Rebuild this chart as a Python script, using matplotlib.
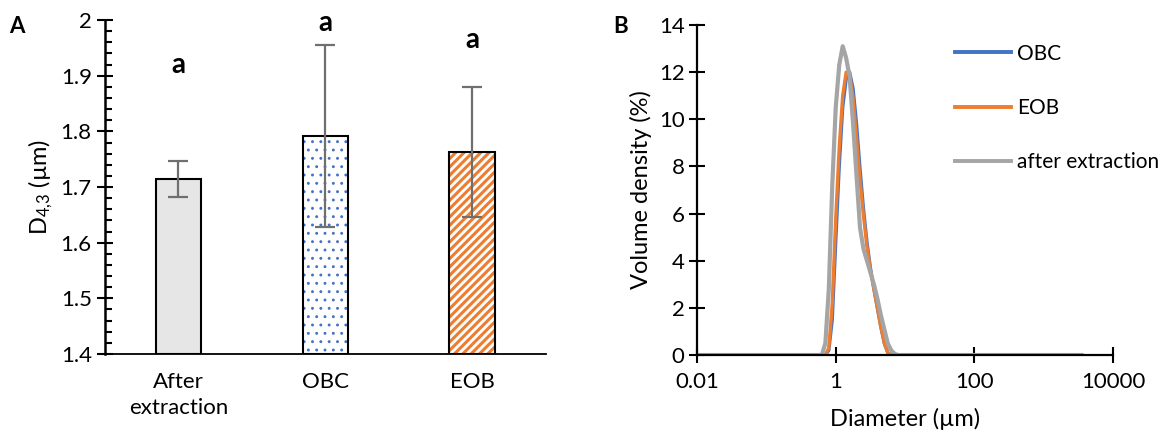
import numpy as np
import matplotlib
matplotlib.use("Agg")
import matplotlib.pyplot as plt

plt.rcParams['font.family'] = ['Lato', 'DejaVu Sans']
plt.rcParams['mathtext.default'] = 'regular'
plt.rcParams['hatch.linewidth'] = 2.2

# ------------------------------------------------------------
# Panel A data: mean D4,3 with error bars
# ------------------------------------------------------------
samples = ["After\nextraction", "OBC", "EOB"]
d43 = [1.714, 1.792, 1.763]
d43_err = [0.032, 0.163, 0.116]
letters = ["a", "a", "a"]
letter_y = [1.92, 1.995, 1.965]

# ------------------------------------------------------------
# Panel B data: volume density vs diameter (Mastersizer bins)
# ------------------------------------------------------------
diam = [0.01, 0.5, 0.632, 0.710, 0.796, 0.893, 1.002, 1.125, 1.262, 1.416,
        1.589, 1.783, 2.000, 2.244, 2.518, 2.825, 3.170, 3.557, 3.991,
        4.477, 5.024, 5.637, 6.325, 7.096, 7.962, 3500]
obc = [0, 0, 0, 0, 0.2, 1.5, 4.8, 8.0, 10.5, 11.7,
       12.0, 11.3, 9.8, 7.9, 6.2, 4.8, 3.7, 2.8, 2.0,
       1.2, 0.5, 0.1, 0, 0, 0, 0]
eob = [0, 0, 0, 0, 0.3, 2.2, 5.8, 8.8, 11.0, 12.0,
       11.9, 10.9, 9.2, 7.4, 5.9, 4.6, 3.6, 2.8, 2.0,
       1.2, 0.5, 0.1, 0, 0, 0, 0]
after = [0, 0, 0, 0.5, 2.8, 7.2, 10.5, 12.3, 13.1, 12.6,
         11.8, 9.8, 7.6, 5.4, 4.5, 4.0, 3.5, 3.0, 2.4,
         1.7, 1.1, 0.5, 0.2, 0.05, 0, 0]

blue, orange, grey = '#4472C4', '#ED7D31', '#A5A5A5'

fig = plt.figure(figsize=(11.64, 4.37), dpi=100)

# ---------------- Panel A ----------------
axA = fig.add_axes([0.0902, 0.190, 0.3786, 0.764])
xpos = np.arange(len(samples))
w = 0.31
axA.bar(xpos[0], d43[0] - 1.4, w, bottom=1.4, color='#E7E6E6', edgecolor='black', linewidth=1.5, zorder=2)
# patterned bars: hatch drawn in colour, outline drawn separately in black
dots = axA.bar(xpos[1], d43[1] - 1.4, w, bottom=1.4, color='white', edgecolor=blue, hatch='..', linewidth=0, zorder=2)
for p in dots:
    if hasattr(p, 'set_hatch_linewidth'):
        p.set_hatch_linewidth(0.9)
axA.bar(xpos[2], d43[2] - 1.4, w, bottom=1.4, color='white', edgecolor=orange, hatch='////', linewidth=0, zorder=2)
axA.bar(xpos[1:], np.array(d43[1:]) - 1.4, w, bottom=1.4, fill=False, edgecolor='black', linewidth=1.5, zorder=3)
axA.errorbar(xpos, d43, yerr=d43_err, fmt='none', ecolor='#6F6F6F', elinewidth=1.6, capsize=7, capthick=1.6, zorder=4)
for x, y, t in zip(xpos, letter_y, letters):
    axA.text(x, y, t, ha='center', va='center', fontsize=20, fontweight='bold')

axA.set_xlim(-0.5, 2.5)
axA.set_ylim(1.4, 2.0)
axA.set_yticks(np.arange(1.4, 2.01, 0.1))
axA.set_yticklabels([f"{v:g}" for v in np.arange(1.4, 2.01, 0.1).round(1)])
axA.set_yticks(np.arange(1.4, 2.0, 0.02), minor=True)
axA.set_xticks(xpos)
axA.set_xticklabels(samples, linespacing=1.4)
axA.tick_params(axis='y', which='major', direction='inout', length=11, width=1.5, labelsize=16, pad=4)
axA.tick_params(axis='y', which='minor', direction='in', length=5, width=1.5)
axA.tick_params(axis='x', direction='in', length=5, width=1.5, labelsize=16, pad=13)
for s in ['top', 'right']:
    axA.spines[s].set_visible(False)
axA.spines['left'].set_linewidth(1.8)
axA.spines['bottom'].set_linewidth(1.3)
axA.set_ylabel('D$_{4{,}3}$ (µm)', fontsize=17, labelpad=4)
fig.text(0.008, 0.925, 'A', fontsize=16, fontweight='bold')

# ---------------- Panel B ----------------
axB = fig.add_axes([0.5988, 0.1876, 0.3574, 0.7552])
axB.plot(diam, obc, color=blue, lw=2.4, label='OBC')
axB.plot(diam, eob, color=orange, lw=2.4, label='EOB')
axB.plot(diam, after, color=grey, lw=3.0, label='after extraction')
axB.set_xscale('log')
axB.set_xlim(0.01, 10000)
axB.set_ylim(0, 14)
axB.set_xticks([0.01, 1, 100, 10000])
axB.set_xticklabels(['0.01', '1', '100', '10000'])
axB.minorticks_off()
axB.set_yticks(range(0, 15, 2))
axB.tick_params(axis='both', direction='inout', length=11, width=1.5, labelsize=16)
axB.tick_params(axis='x', pad=7)
for s in ['top', 'right']:
    axB.spines[s].set_visible(False)
axB.spines['left'].set_linewidth(1.6)
axB.spines['bottom'].set_linewidth(1.6)
axB.set_xlabel('Diameter (µm)', fontsize=17, labelpad=11)
axB.set_ylabel('Volume density (%)', fontsize=17, labelpad=5)
leg = axB.legend(loc='upper left', bbox_to_anchor=(0.595, 0.975), frameon=False, fontsize=15,
                 handlelength=2.7, handletextpad=0.3, labelspacing=1.65, borderpad=0)
for line in leg.get_lines():
    line.set_linewidth(2.8)
fig.text(0.527, 0.925, 'B', fontsize=16, fontweight='bold')

fig.savefig('out.png', dpi=100)
